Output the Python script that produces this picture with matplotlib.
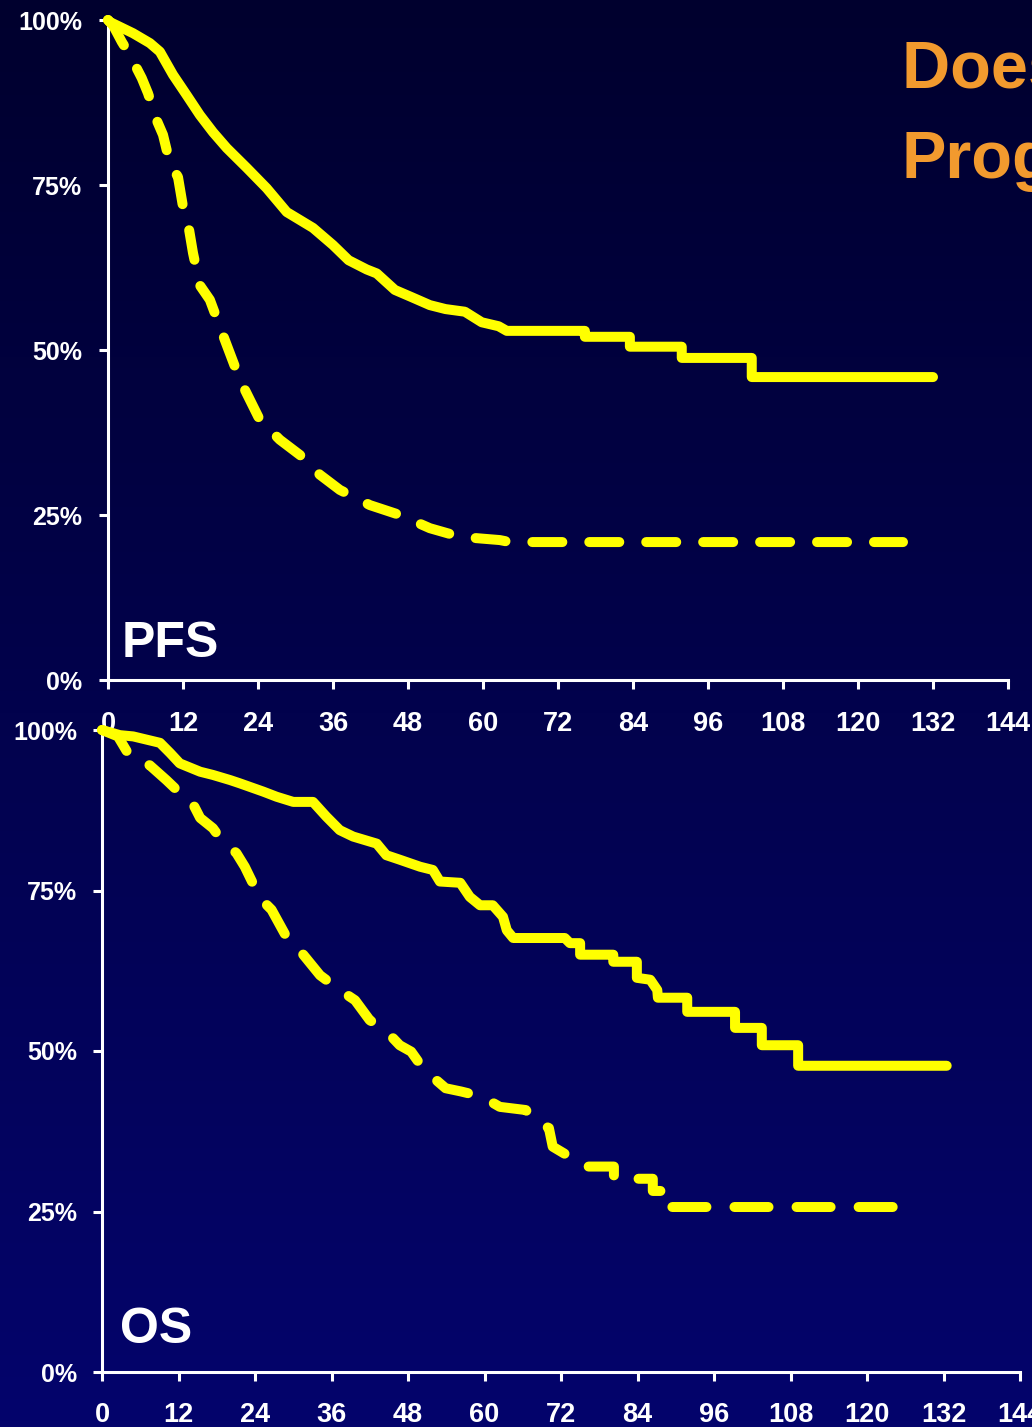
import numpy as np
import matplotlib
matplotlib.use("Agg")
import matplotlib.pyplot as plt

plt.rcParams['font.family'] = ['Liberation Sans', 'DejaVu Sans']
plt.rcParams['lines.scale_dashes'] = False

# ---- Kaplan-Meier curve vertices (months, % surviving) ----
pfs_solid_t = [0, 0.3, 4, 6.7, 8.3, 10.4, 12.6, 14.7, 16.8, 19, 22.2, 25.4, 28.6, 32.8, 36,
               38.5, 41.4, 43, 45.9, 48.6, 51.5, 54, 57.1, 59.8, 62.5, 63.8, 76.3, 76.3,
               83.5, 83.5, 91.8, 91.8, 103, 103, 132]
pfs_solid_s = [100, 99.7, 98, 96.5, 95.2, 91.7, 88.6, 85.6, 83, 80.6, 77.6, 74.5, 70.9, 68.5, 65.9,
               63.6, 62.2, 61.6, 59.1, 58, 56.8, 56.2, 55.8, 54.2, 53.6, 52.9, 52.9, 52.0,
               52.0, 50.5, 50.5, 48.8, 48.8, 45.9, 45.9]

pfs_dash_t = [0, 0.8, 2.2, 3.5, 5.4, 6.4, 7.8, 8.8, 9.9, 11.2, 12, 12.8, 13.6, 14.7, 16.3,
              18.7, 21.1, 24.3, 27.5, 30.7, 33.9, 37.1, 41.9, 46.7, 51.5, 56.3, 62.7, 64.3, 127.2]
pfs_dash_s = [100, 99.2, 96.7, 94.7, 91.2, 88.9, 84.8, 82.6, 78.3, 76.2, 71.7, 69.2, 64.7, 59.8, 57.6,
              51.5, 45.5, 39.4, 36.4, 34.1, 31.1, 28.8, 26.5, 25, 23, 21.7, 21.2, 20.9, 20.9]

os_solid_t = [0, 2.8, 4.9, 9.1, 10.7, 12.2, 15.4, 17.4, 20.1, 21.6, 25.3, 27.4, 30, 33.1, 35.2,
              37.3, 39.4, 43.1, 44.6, 46.7, 49.9, 51.9, 53, 56.2, 57.7, 59.3, 61.3, 62.9, 63.5,
              64.5, 72.6, 73.4, 75, 75, 80.2, 80.2, 83.9, 83.9, 86, 87.1, 87.2, 91.8, 91.8,
              99.3, 99.3, 103.5, 103.5, 109.2, 109.2, 132.5]
os_solid_s = [100, 99.2, 99, 98, 96.4, 94.8, 93.5, 93, 92.2, 91.7, 90.4, 89.6, 88.8, 88.8, 86.5,
              84.4, 83.4, 82.3, 80.5, 79.8, 78.7, 78.2, 76.4, 76.2, 74, 72.7, 72.7, 70.9, 68.8,
              67.6, 67.6, 66.8, 66.8, 65, 65, 63.9, 63.9, 61.4, 61.1, 59.5, 58.3, 58.3, 56.1,
              56.1, 53.6, 53.6, 50.9, 50.9, 47.7, 47.7]

os_dash_t = [0, 2.5, 4, 5.4, 7.5, 10.1, 12, 13.8, 15.4, 17.4, 18.5, 21.1, 22.4, 24.8, 26.6,
             29.2, 31, 34.2, 37.3, 39.7, 42, 44.4, 46.7, 48.5, 49.5, 51.8, 53.9, 56.3, 59.6,
             62.4, 66.5, 67.5, 70.1, 70.7, 72.9, 75.6, 80.3, 80.3, 84.2, 86.4, 86.4, 87.8,
             87.8, 127.9]
os_dash_s = [100, 99, 96.5, 95.1, 94.5, 92.2, 90.4, 89.4, 86.3, 84.7, 83.2, 80.8, 78.7, 73.8, 72,
             67.3, 65.7, 61.8, 59.5, 57.9, 54.8, 53.3, 50.9, 49.9, 48.5, 46, 44.2, 43.7, 42.9,
             41.3, 40.8, 39.3, 38, 35.1, 33.8, 32, 32, 30.1, 30.1, 30.1, 28.2, 28.2,
             25.7, 25.7]

x_ticks = list(range(0, 145, 12))
y_ticks = [0, 25, 50, 75, 100]
y_labels = ['0%', '25%', '50%', '75%', '100%']
panel_names = ['PFS', 'OS']
title_lines = ['Does CR Predict', 'Prognosis?']

YELLOW = '#FFFF00'
ORANGE = '#F29A2E'

fig = plt.figure(figsize=(10.32, 14.27), dpi=100)

# navy vertical gradient backdrop
bg = fig.add_axes([0, 0, 1, 1], zorder=-10)
bg.axis('off')
top_c = np.array([0, 0, 46]) / 255.0
bot_c = np.array([4, 4, 108]) / 255.0
f = np.linspace(0, 1, 256)[:, None]
grad = top_c[None, :] * (1 - f) + bot_c[None, :] * f
bg.imshow(grad[:, None, :], aspect='auto', extent=[0, 1, 0, 1], origin='upper')
bg.set_xlim(0, 1)
bg.set_ylim(0, 1)

W, H = 1032.0, 1427.0
ax1 = fig.add_axes([108 / W, (H - 680) / H, 900 / W, 660 / H])
ax2 = fig.add_axes([102 / W, (H - 1372) / H, 918 / W, 642 / H])

LW = 7.2


def style_axis(ax, xpad, ypad):
    ax.set_facecolor('none')
    ax.set_xlim(0, 144)
    ax.set_ylim(0, 100)
    for side in ('top', 'right'):
        ax.spines[side].set_visible(False)
    for side in ('left', 'bottom'):
        ax.spines[side].set_color('white')
        ax.spines[side].set_linewidth(2.2)
    ax.set_xticks(x_ticks)
    ax.set_xticklabels([str(t) for t in x_ticks])
    ax.set_yticks(y_ticks)
    ax.set_yticklabels(y_labels)
    ax.tick_params(axis='both', colors='white', direction='out', length=6.5, width=2.2)
    ax.tick_params(axis='x', pad=xpad, labelsize=19.5)
    ax.tick_params(axis='y', pad=ypad, labelsize=18)
    for lab in ax.get_xticklabels() + ax.get_yticklabels():
        lab.set_fontweight('bold')
        lab.set_color('white')


style_axis(ax1, 16, 12)
style_axis(ax2, 15, 11.5)

ax1.plot(pfs_solid_t, pfs_solid_s, color=YELLOW, lw=LW, solid_joinstyle='round',
         solid_capstyle='round', clip_on=False, zorder=5)
ax1.plot(pfs_dash_t, pfs_dash_s, color=YELLOW, lw=LW, dashes=(21.6, 19.4),
         dash_capstyle='round', dash_joinstyle='round', clip_on=False, zorder=5)

ax2.plot(os_solid_t, os_solid_s, color=YELLOW, lw=LW, solid_joinstyle='round',
         solid_capstyle='round', clip_on=False, zorder=5)
ax2.plot(os_dash_t, os_dash_s, color=YELLOW, lw=LW, dashes=(24.5, 20.2),
         dash_capstyle='round', dash_joinstyle='round', clip_on=False, zorder=5)

ax1.text(2.24, 3.5, panel_names[0], color='white', fontsize=36, fontweight='bold',
         ha='left', va='baseline')
ax2.text(2.8, 4.5, panel_names[1], color='white', fontsize=36, fontweight='bold',
         ha='left', va='baseline')

fig.text(902 / W, 1 - 88 / H, title_lines[0], color=ORANGE, fontsize=48,
         fontweight='bold', ha='left', va='baseline')
fig.text(902 / W, 1 - 178 / H, title_lines[1], color=ORANGE, fontsize=48,
         fontweight='bold', ha='left', va='baseline')

fig.savefig('out.png', dpi=100)
